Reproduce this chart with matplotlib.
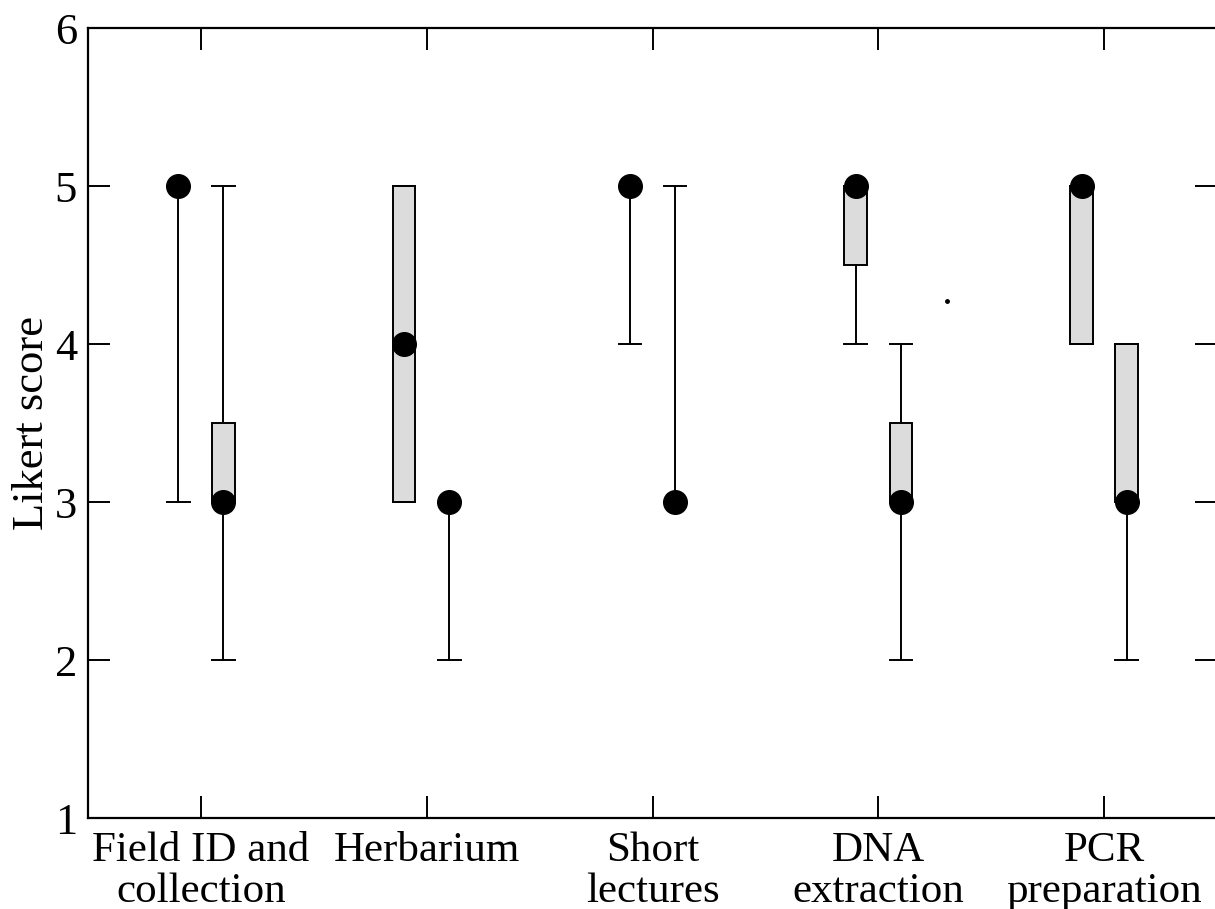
import numpy as np
import matplotlib
matplotlib.use("Agg")
import matplotlib.pyplot as plt

# categories (two boxes per category)
labels = ["Field ID and\ncollection", "Herbarium", "Short\nlectures",
          "DNA\nextraction", "PCR\npreparation"]

# left box of each pair
med_l = [5, 4, 5, 5, 5]
q1_l = [5, 3, 5, 4.5, 4]
q3_l = [5, 5, 5, 5, 5]
lo_l = [3, 3, 4, 4, 4]
hi_l = [5, 5, 5, 5, 5]

# right box of each pair
med_r = [3, 3, 3, 3, 3]
q1_r = [3, 3, 3, 3, 3]
q3_r = [3.5, 3, 3, 3.5, 4]
lo_r = [2, 2, 3, 2, 2]
hi_r = [5, 3, 5, 4, 4]

# stray point between DNA and PCR
stray_x = [4.305]
stray_y = [4.27]

plt.rcParams['font.family'] = ['Liberation Serif', 'DejaVu Serif']

fig = plt.figure(figsize=(12.15, 9.09), dpi=100)
ax = fig.add_axes([88/1215, 1-818/909, (1217-88)/1215, (818-28)/909])

pos = np.arange(1, len(labels)+1)
off = 0.1
w = 0.1


def stats(med, q1, q3, lo, hi):
    return [dict(med=m, q1=a, q3=b, whislo=l, whishi=h, fliers=[])
            for m, a, b, l, h in zip(med, q1, q3, lo, hi)]


lw = 1.4
common = dict(widths=w, capwidths=w, patch_artist=True, showfliers=False,
              boxprops=dict(facecolor="#dcdcdc", edgecolor="black", linewidth=lw),
              whiskerprops=dict(color="black", linewidth=lw),
              capprops=dict(color="black", linewidth=lw),
              medianprops=dict(linestyle="none"),
              manage_ticks=False)
ax.bxp(stats(med_l, q1_l, q3_l, lo_l, hi_l), positions=pos-off, **common)
ax.bxp(stats(med_r, q1_r, q3_r, lo_r, hi_r), positions=pos+off, **common)

ax.plot(pos-off, med_l, 'o', color='black', markersize=17, zorder=5)
ax.plot(pos+off, med_r, 'o', color='black', markersize=17, zorder=5)
ax.plot(stray_x, stray_y, 'o', color='black', markersize=2.5, zorder=5)

ax.set_xlim(0.5, 5.5)
ax.set_ylim(1, 6)
ax.set_xticks(pos)
ax.set_xticklabels(labels, fontsize=31, linespacing=1.07)
ax.set_yticks([1, 2, 3, 4, 5, 6])
ax.tick_params(axis='y', labelsize=32)
ax.tick_params(direction='in', length=16, width=1.4, top=True, right=True)
ax.tick_params(axis='y', pad=8)
ax.tick_params(axis='x', pad=10)
ax.set_ylabel("Likert score", fontsize=32, labelpad=2)
for s in ax.spines.values():
    s.set_linewidth(1.6)

fig.savefig("out.png", dpi=100)
